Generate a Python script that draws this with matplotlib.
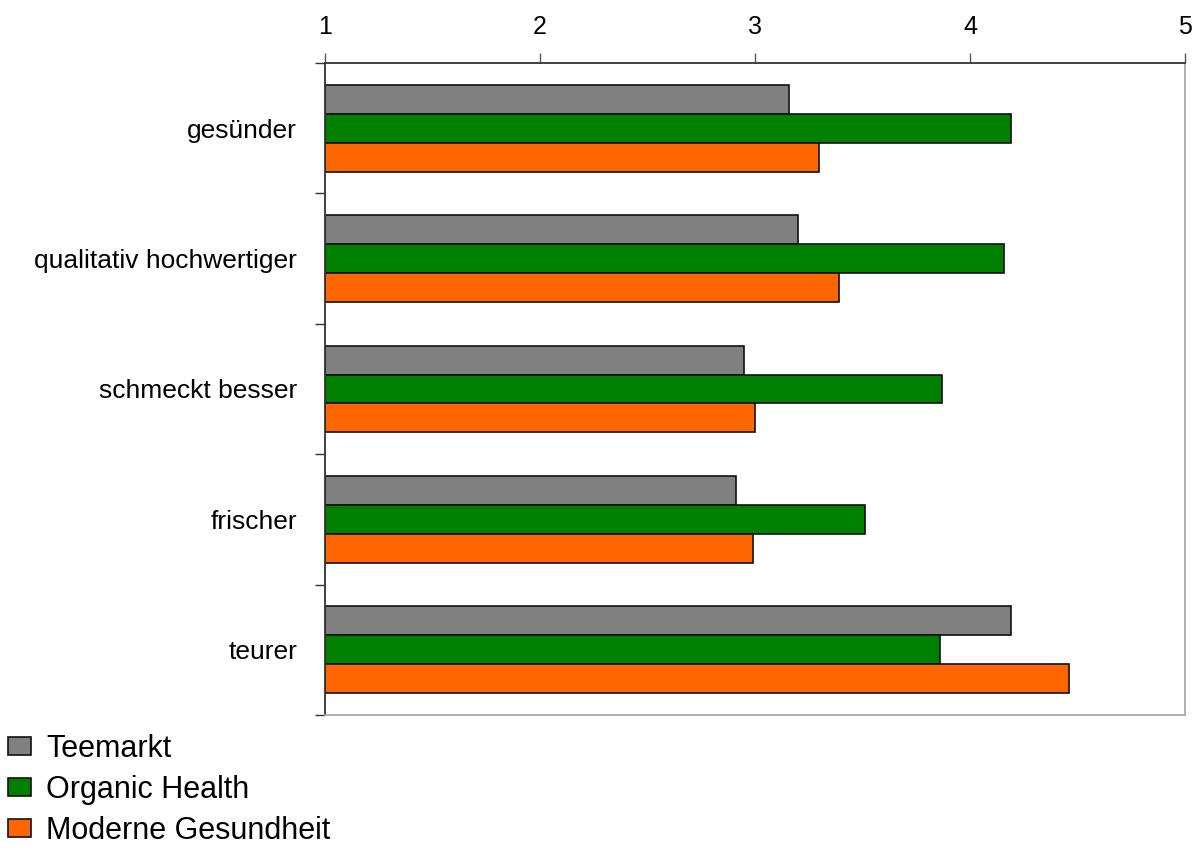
import matplotlib.pyplot as plt
import numpy as np

plt.rcParams['font.family'] = ['Liberation Sans', 'DejaVu Sans']

categories = ['gesünder', 'qualitativ hochwertiger', 'schmeckt besser', 'frischer', 'teurer']
teemarkt = [3.16, 3.20, 2.95, 2.91, 4.19]
organic_health = [4.19, 4.16, 3.87, 3.51, 3.86]
moderne_gesundheit = [3.30, 3.39, 3.00, 2.99, 4.46]

series = [('Teemarkt', teemarkt, '#808080'),
          ('Organic Health', organic_health, '#008000'),
          ('Moderne Gesundheit', moderne_gesundheit, '#ff6600')]

fig = plt.figure(figsize=(12, 8.51), dpi=100)
ax = fig.add_axes([0.2708, 0.1598, 0.7167, 0.7662])

bar_h = 0.222
y = np.arange(len(categories))
for i, (name, vals, color) in enumerate(series):
    ax.barh(y + (i - 1) * bar_h, np.array(vals) - 1, left=1, height=bar_h,
            color=color, edgecolor='#111111', linewidth=1.2, label=name)

ax.set_xlim(1, 5)
ax.set_ylim(len(categories) - 0.5, -0.5)
ax.xaxis.tick_top()
ax.set_xticks([1, 2, 3, 4, 5])
ax.tick_params(axis='x', labelsize=18, length=7, width=1, color='#555555', pad=10)

# category labels sit between boundary ticks
ax.set_yticks(y)
ax.set_yticklabels(categories)
ax.tick_params(axis='y', which='major', length=0, labelsize=19, pad=20)
ax.set_yticks(np.arange(-0.5, len(categories)), minor=True)
ax.tick_params(axis='y', which='minor', length=7, width=1, color='#333333')

ax.spines['top'].set_color('#333333')
ax.spines['left'].set_color('#333333')
ax.spines['right'].set_color('#aaaaaa')
ax.spines['bottom'].set_color('#aaaaaa')
for s in ax.spines.values():
    s.set_linewidth(1.3)

fig.legend(loc='upper left', bbox_to_anchor=(8 / 1200, 1 - 734 / 851), frameon=False,
           fontsize=22, handlelength=0.75, handleheight=0.55, handletextpad=0.5,
           labelspacing=0.36, borderaxespad=0, borderpad=0)

fig.savefig('out.png', dpi=100)
